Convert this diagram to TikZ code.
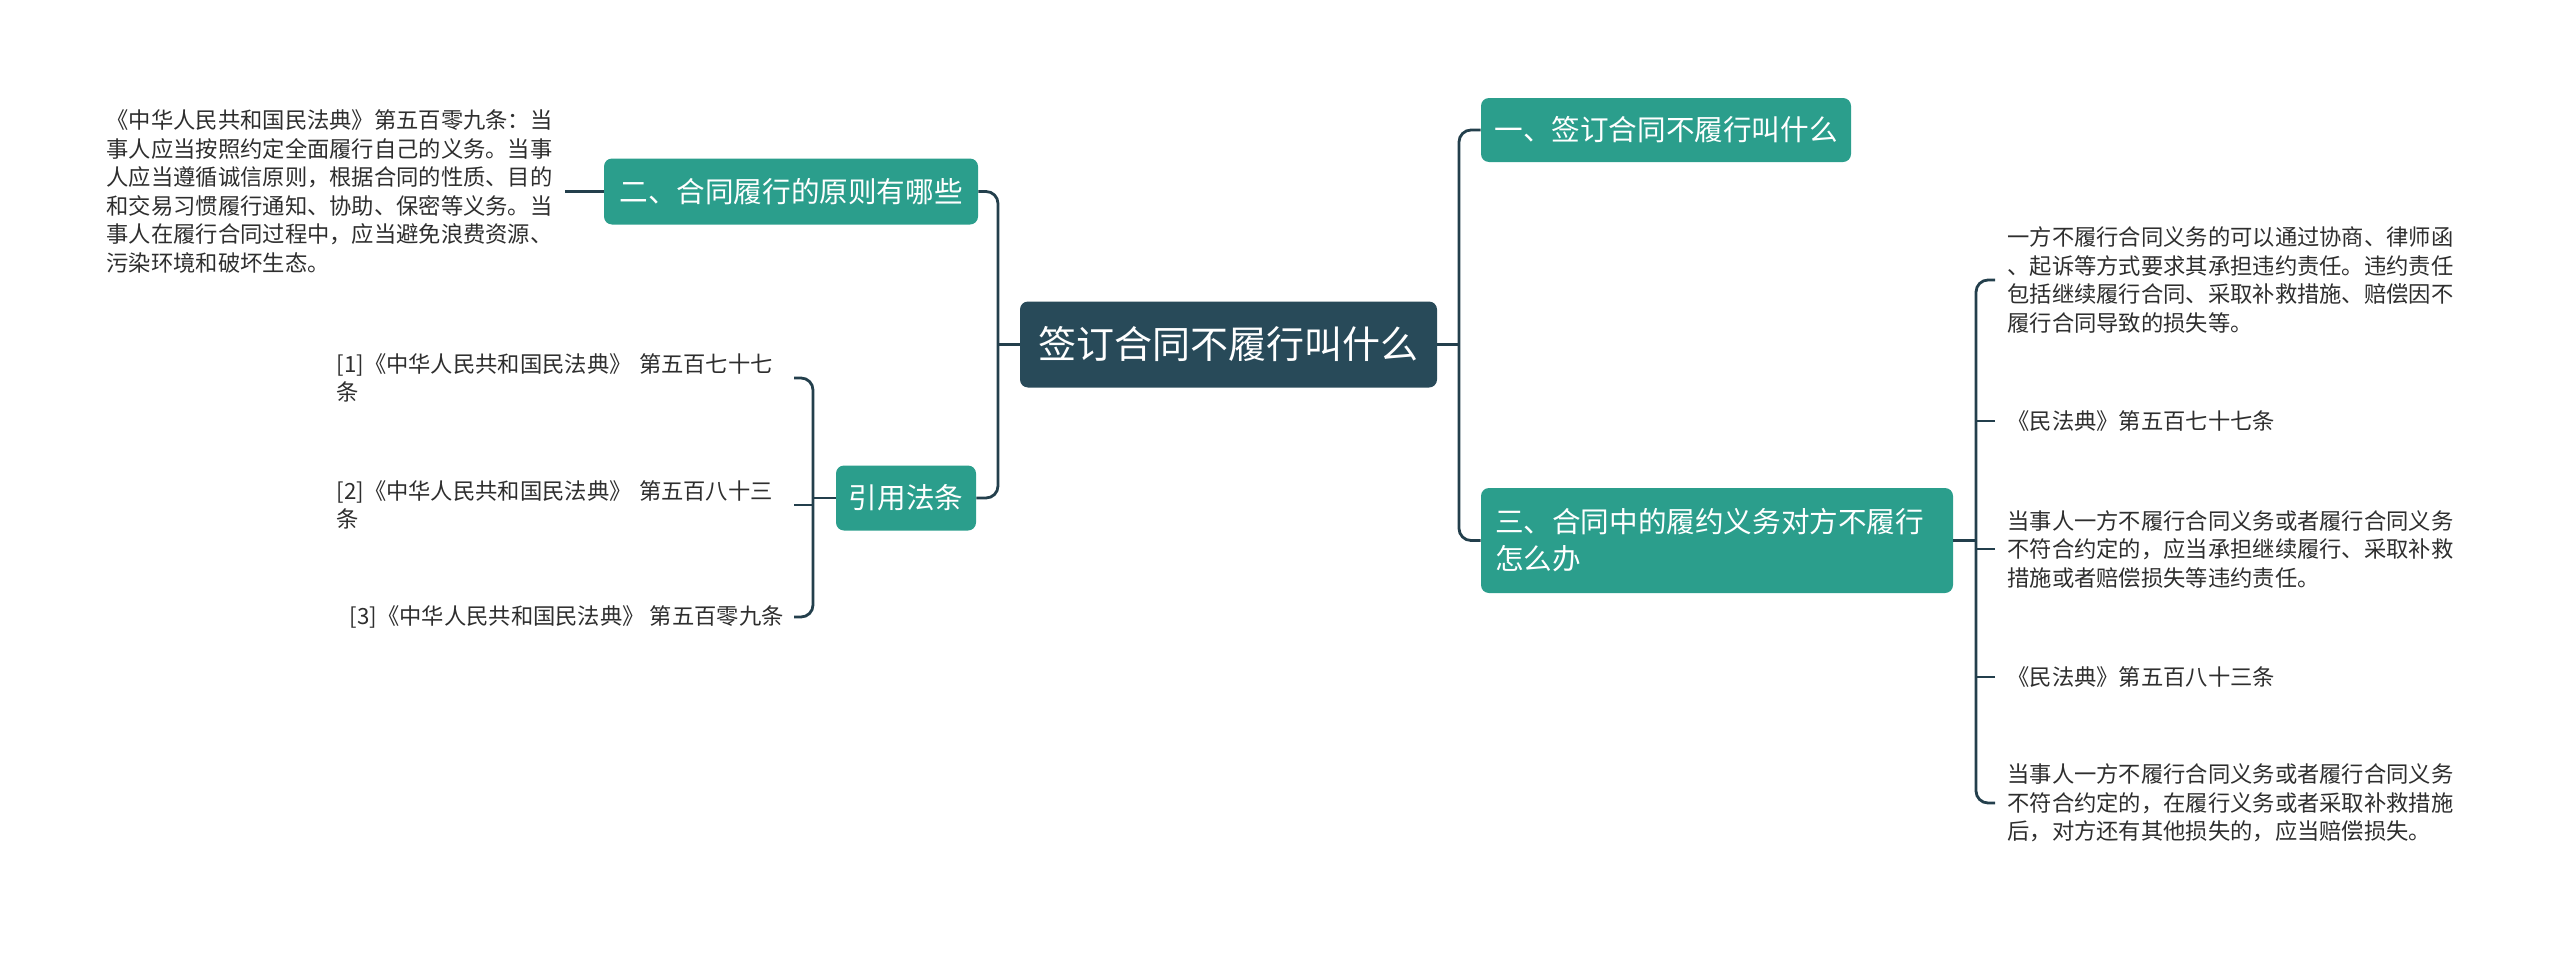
\documentclass[tikz,border=0pt]{standalone}
\usepackage{fontspec}
\setmainfont{Noto Sans CJK SC}
\definecolor{teal0}{HTML}{2B9E8C}
\definecolor{navy0}{HTML}{284A59}
\definecolor{line0}{HTML}{233F4C}
\definecolor{txt0}{HTML}{2E2E2E}
\tikzset{
  rootbox/.style={fill=navy0, rounded corners=4pt, text=white, font=\fontsize{19}{24}\selectfont, minimum width=208.5pt, minimum height=43pt, inner sep=0pt},
  branchbox/.style={fill=teal0, rounded corners=4pt, text=white, font=\fontsize{14.3}{18.5}\selectfont, inner sep=0pt},
  leaf/.style={text=txt0, font=\fontsize{11.15}{14.25}\selectfont, align=left, inner xsep=6pt, inner ysep=0pt},
  conn/.style={draw=line0, line width=1.4pt, rounded corners=6pt},
}
\begin{document}
\begin{tikzpicture}[x=0.5pt,y=-0.5pt]
\useasboundingbox (0,0) rectangle (2560,953);
% central
\node[rootbox] (root) at (1228.5,344.5) {签订合同不履行叫什么};
% branches
\node[branchbox, minimum width=185pt, minimum height=32pt] (b1) at (1666,130) {一、签订合同不履行叫什么};
\node[branchbox, minimum width=187pt, minimum height=33pt] (b2) at (791,191.5) {二、合同履行的原则有哪些};
\node[branchbox, minimum width=236pt, minimum height=52.5pt, align=left, text width=222pt] (b3) at (1717,540.5) {三、合同中的履约义务对方不履行\\怎么办};
\node[branchbox, minimum width=70pt, minimum height=32.5pt] (b4) at (906,498) {引用法条};
% left text
\node[leaf, anchor=east] (t0) at (565,191.5) {《中华人民共和国民法典》第五百零九条：当\\事人应当按照约定全面履行自己的义务。当事\\人应当遵循诚信原则，根据合同的性质、目的\\和交易习惯履行通知、协助、保密等义务。当\\事人在履行合同过程中，应当避免浪费资源、\\污染环境和破坏生态。};
% citations
\node[leaf, anchor=east, inner xsep=5pt, text width=223.5pt] (c1) at (794,378) {[1]《中华人民共和国民法典》 第五百七十七\\条};
\node[leaf, anchor=east, inner xsep=5pt, text width=223.5pt] (c2) at (794,505) {[2]《中华人民共和国民法典》 第五百八十三\\条};
\node[leaf, anchor=east, inner xsep=5pt] (c3) at (794,617) {[3]《中华人民共和国民法典》 第五百零九条};
% right leaves
\node[leaf, anchor=west] (l1) at (1995,280) {一方不履行合同义务的可以通过协商、律师函\\、起诉等方式要求其承担违约责任。违约责任\\包括继续履行合同、采取补救措施、赔偿因不\\履行合同导致的损失等。};
\node[leaf, anchor=west] (l2) at (1995,421) {《民法典》第五百七十七条};
\node[leaf, anchor=west] (l3) at (1995,549) {当事人一方不履行合同义务或者履行合同义务\\不符合约定的，应当承担继续履行、采取补救\\措施或者赔偿损失等违约责任。};
\node[leaf, anchor=west] (l4) at (1995,677) {《民法典》第五百八十三条};
\node[leaf, anchor=west] (l5) at (1995,803) {当事人一方不履行合同义务或者履行合同义务\\不符合约定的，在履行义务或者采取补救措施\\后，对方还有其他损失的，应当赔偿损失。};
% junctions
\coordinate (rj) at (1459,344.5);
\coordinate (lj) at (998,344.5);
\coordinate (cj) at (813,498);
\coordinate (sj) at (1976,540.5);
% connectors
\draw[conn] (root.east) -- (rj);
\draw[conn] (b1.west) -| (rj) |- (b3.west);
\draw[conn] (root.west) -- (lj);
\draw[conn] (b2.east) -| (lj) |- (b4.east);
\draw[conn] (t0.east) -- (b2.west);
\draw[conn] (b4.west) -- (cj);
\draw[conn] (c1.east) -| (cj) |- (c3.east);
\draw[conn] (c2.east) -- (c2.east -| cj);
\draw[conn] (b3.east) -- (sj);
\draw[conn] (l1.west) -| (sj) |- (l5.west);
\draw[conn] (l2.west) -- (l2.west -| sj);
\draw[conn] (l3.west) -- (l3.west -| sj);
\draw[conn] (l4.west) -- (l4.west -| sj);
\end{tikzpicture}
\end{document}
